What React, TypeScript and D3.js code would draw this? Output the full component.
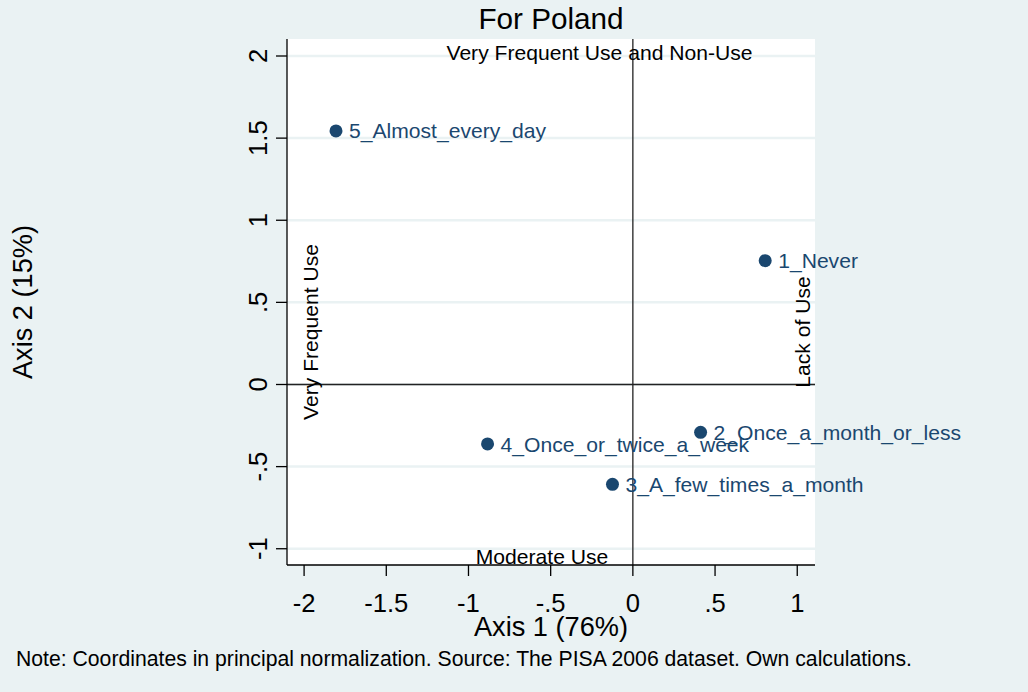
import React from "react";
import * as d3 from "d3";

const categories = [
  "1_Never",
  "2_Once_a_month_or_less",
  "3_A_few_times_a_month",
  "4_Once_or_twice_a_week",
  "5_Almost_every_day",
];
const axis1Values = [0.805, 0.412, -0.124, -0.884, -1.806];
const axis2Values = [0.754, -0.291, -0.608, -0.362, 1.544];
const xTicks = [-2, -1.5, -1, -0.5, 0, 0.5, 1];
const yTicks = [-1, -0.5, 0, 0.5, 1, 1.5, 2];
const xTickLabels = ["-2", "-1.5", "-1", "-.5", "0", ".5", "1"];
const yTickLabels = ["-1", "-.5", "0", ".5", "1", "1.5", "2"];

const W = 1028;
const H = 692;
const left = 287;
const right = 815;
const top = 39;
const bottom = 565;
const FONT = "Arial, 'Liberation Sans', Helvetica, sans-serif";
const BG = "#eaf2f3";
const NAVY = "#1a476f";
const LBL = 21.1;

export default function App() {
  const x = d3.scaleLinear().domain([-2.104, 1.108]).range([left, right]);
  const y = d3.scaleLinear().domain([-1.099, 2.1035]).range([bottom, top]);

  return (
    <svg
      width={W}
      height={H}
      style={{ position: "absolute", left: 0, top: 0, display: "block" }}
      fontFamily={FONT}
    >
      <rect x={0} y={0} width={W} height={H} fill={BG} />
      <rect x={left} y={top} width={right - left} height={bottom - top} fill="#ffffff" />
      {yTicks.map((t) => (
        <line
          key={"g" + t}
          x1={left}
          x2={right}
          y1={y(t)}
          y2={y(t)}
          stroke={BG}
          strokeWidth={2.5}
        />
      ))}
      {/* reference lines */}
      <line x1={left} x2={right} y1={y(0)} y2={y(0)} stroke="#222" strokeWidth={1.3} />
      <line x1={x(0)} x2={x(0)} y1={top} y2={bottom} stroke="#222" strokeWidth={1.3} />
      {/* axes */}
      <line x1={left} x2={left} y1={top} y2={bottom} stroke="#000" strokeWidth={1.3} />
      <line x1={left} x2={right} y1={bottom} y2={bottom} stroke="#000" strokeWidth={1.3} />
      {yTicks.map((t, i) => (
        <g key={"yt" + t}>
          <line x1={left - 11} x2={left} y1={y(t)} y2={y(t)} stroke="#000" strokeWidth={1.3} />
          <text
            transform={`translate(267,${y(t)}) rotate(-90)`}
            textAnchor="middle"
            fontSize={25.6}
            fill="#000"
          >
            {yTickLabels[i]}
          </text>
        </g>
      ))}
      {xTicks.map((t, i) => (
        <g key={"xt" + t}>
          <line x1={x(t)} x2={x(t)} y1={bottom} y2={bottom + 11} stroke="#000" strokeWidth={1.3} />
          <text x={x(t)} y={612} textAnchor="middle" fontSize={25.6} fill="#000">
            {xTickLabels[i]}
          </text>
        </g>
      ))}
      {/* annotations */}
      <text x={599.5} y={60} textAnchor="middle" fontSize={LBL} fill="#000">
        Very Frequent Use and Non-Use
      </text>
      <text x={542} y={564} textAnchor="middle" fontSize={LBL} fill="#000">
        Moderate Use
      </text>
      <text
        transform={`translate(318,332) rotate(-90)`}
        textAnchor="middle"
        fontSize={LBL}
        fill="#000"
      >
        Very Frequent Use
      </text>
      <text
        transform={`translate(810,332) rotate(-90)`}
        textAnchor="middle"
        fontSize={LBL}
        fill="#000"
      >
        Lack of Use
      </text>
      {/* points */}
      {categories.map((c, i) => (
        <g key={c}>
          <circle cx={x(axis1Values[i])} cy={y(axis2Values[i])} r={6.5} fill={NAVY} />
          <text
            x={x(axis1Values[i]) + 13}
            y={y(axis2Values[i])}
            dy="0.36em"
            fontSize={LBL}
            fill={NAVY}
          >
            {c}
          </text>
        </g>
      ))}
      {/* titles */}
      <text x={(left + right) / 2} y={29} textAnchor="middle" fontSize={29.7} fill="#000">
        For Poland
      </text>
      <text x={(left + right) / 2} y={636} textAnchor="middle" fontSize={27.2} fill="#000">
        Axis 1 (76%)
      </text>
      <text
        transform={`translate(32,${(top + bottom) / 2}) rotate(-90)`}
        textAnchor="middle"
        fontSize={27.2}
        fill="#000"
      >
        Axis 2 (15%)
      </text>
      <text x={16} y={666} fontSize={21.2} fill="#000">
        Note: Coordinates in principal normalization. Source: The PISA 2006 dataset. Own calculations.
      </text>
    </svg>
  );
}
